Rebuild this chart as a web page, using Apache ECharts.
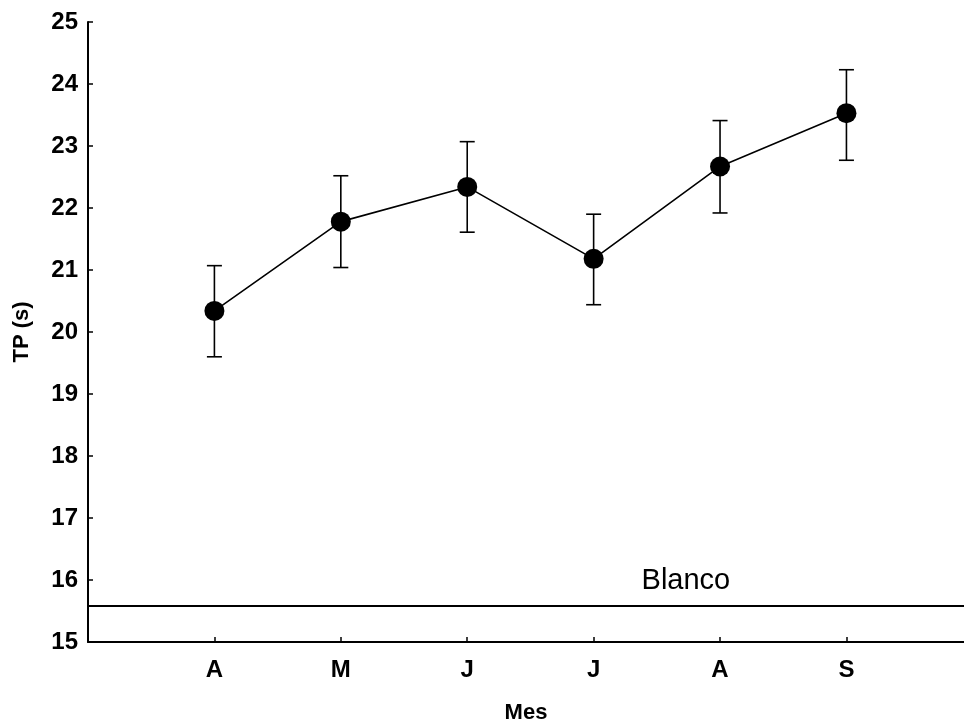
<!DOCTYPE html>
<html>
<head>
<meta charset="utf-8">
<script src="https://cdn.jsdelivr.net/npm/echarts@6/dist/echarts.min.js"></script>
<style>html,body{margin:0;padding:0;background:#fff}#c{width:964px;height:721px}</style>
</head>
<body>
<div id="c"></div>
<script>
var months = ['A', 'M', 'J', 'J', 'A', 'S'];
var means = [20.34, 21.78, 22.34, 21.18, 22.67, 23.53];
var upper = [21.07, 22.52, 23.07, 21.90, 23.41, 24.23];
var lower = [19.60, 21.04, 21.61, 20.44, 21.92, 22.77];
var blanco = 15.59;
var yTicks = [15, 16, 17, 18, 19, 20, 21, 22, 23, 24, 25];

var font = 'Liberation Sans, Arial, sans-serif';
var chart = echarts.init(document.getElementById('c'));
var lineData = means.map(function (v, i) { return [i + 1, v]; });
var errData = means.map(function (v, i) { return [i + 1, lower[i], upper[i]]; });

chart.setOption({
  animation: false,
  backgroundColor: '#fff',
  grid: { left: 88, right: 0, top: 22, bottom: 79, containLabel: false, outerBoundsMode: 'none' },
  xAxis: {
    type: 'value', min: 0, max: 6.93, interval: 1,
    name: 'Mes', nameLocation: 'middle', nameGap: 60,
    nameTextStyle: { color: '#000', fontWeight: 'bold', fontSize: 22, fontFamily: font },
    axisLine: { show: true, lineStyle: { color: '#000', width: 2 } },
    axisTick: { show: true, inside: true, length: 5, lineStyle: { color: '#000', width: 1.5 },
      customValues: [1, 2, 3, 4, 5, 6] },
    axisLabel: {
      color: '#000', fontWeight: 'bold', fontSize: 24, fontFamily: font, margin: 16,
      customValues: [1, 2, 3, 4, 5, 6],
      formatter: function (v) { return months[Math.round(v) - 1] || ''; }
    },
    splitLine: { show: false }
  },
  yAxis: {
    type: 'value', min: 15, max: 25, interval: 1,
    name: 'TP (s)', nameLocation: 'middle', nameGap: 55, nameRotate: 90,
    nameTextStyle: { color: '#000', fontWeight: 'bold', fontSize: 22, fontFamily: font },
    axisLine: { show: true, lineStyle: { color: '#000', width: 2 } },
    axisTick: { show: true, inside: true, length: 5, lineStyle: { color: '#000', width: 1.5 } },
    axisLabel: { color: '#000', fontWeight: 'bold', fontSize: 24, fontFamily: font, margin: 10,
      formatter: function (v) { return yTicks.indexOf(v) >= 0 ? String(v) : ''; } },
    splitLine: { show: false }
  },
  series: [
    {
      type: 'custom',
      data: errData,
      z: 3,
      renderItem: function (params, api) {
        var x = api.value(0);
        var lo = api.coord([x, api.value(1)]);
        var hi = api.coord([x, api.value(2)]);
        var hw = 7.5;
        var st = { stroke: '#000', lineWidth: 1.6 };
        return {
          type: 'group',
          children: [
            { type: 'line', shape: { x1: lo[0], y1: lo[1], x2: hi[0], y2: hi[1] }, style: st },
            { type: 'line', shape: { x1: lo[0] - hw, y1: lo[1], x2: lo[0] + hw, y2: lo[1] }, style: st },
            { type: 'line', shape: { x1: hi[0] - hw, y1: hi[1], x2: hi[0] + hw, y2: hi[1] }, style: st }
          ]
        };
      }
    },
    {
      type: 'line',
      data: lineData,
      z: 4,
      symbol: 'circle',
      symbolSize: 20,
      lineStyle: { color: '#000', width: 1.6 },
      itemStyle: { color: '#000' },
      markLine: {
        silent: true, symbol: 'none',
        lineStyle: { color: '#000', width: 2, type: 'solid' },
        label: { show: false },
        data: [{ yAxis: blanco }]
      },
      markPoint: {
        silent: true,
        symbol: 'circle', symbolSize: 0,
        data: [{
          coord: [4.73, blanco],
          label: { show: true, position: 'top', distance: 10, formatter: 'Blanco',
            color: '#000', fontSize: 29, fontFamily: font }
        }]
      }
    }
  ]
});
</script>
</body>
</html>
